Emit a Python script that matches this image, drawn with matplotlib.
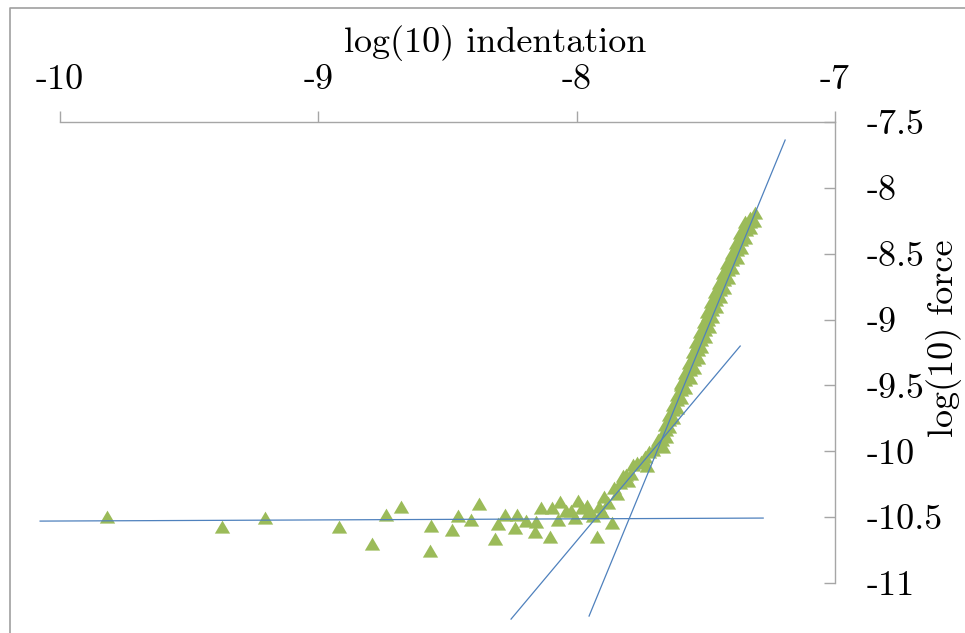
import matplotlib
matplotlib.use('Agg')
import matplotlib.pyplot as plt
from matplotlib.lines import Line2D

plt.rcParams['font.family'] = ['cmr10', 'DejaVu Serif']
plt.rcParams['axes.unicode_minus'] = False
plt.rcParams['mathtext.fontset'] = 'cm'

# ---- data ----
x_ticks = [-10, -9, -8, -7]
x_tick_labels = ['-10', '-9', '-8', '-7']
y_ticks = [-11, -10.5, -10, -9.5, -9, -8.5, -8, -7.5]
y_tick_labels = ['-11', '-10.5', '-10', '-9.5', '-9', '-8.5', '-8', '-7.5']

low_x = [-9.818, -9.373, -9.206, -8.920, -8.792, -8.738, -8.680, -8.564, -8.568, -8.483,
         -8.459, -8.409, -8.378, -8.316, -8.304, -8.277, -8.239, -8.231, -8.196, -8.161,
         -8.157, -8.138, -8.103, -8.095, -8.072, -8.064, -8.041, -8.022, -8.006, -7.995,
         -7.979, -7.960, -7.956, -7.937, -7.921, -7.914, -7.902, -7.894, -7.879, -7.863,
         -7.855, -7.844, -7.832, -7.820, -7.809, -7.801, -7.790, -7.782, -7.766, -7.751,
         -7.735, -7.728, -7.720, -7.704, -7.685]
low_y = [-10.499, -10.575, -10.507, -10.575, -10.704, -10.484, -10.423, -10.567, -10.757, -10.598,
         -10.491, -10.522, -10.400, -10.666, -10.552, -10.484, -10.583, -10.484, -10.529, -10.613,
         -10.537, -10.431, -10.651, -10.431, -10.522, -10.385, -10.453, -10.453, -10.507, -10.378,
         -10.431, -10.416, -10.469, -10.491, -10.651, -10.423, -10.461, -10.347, -10.393, -10.545,
         -10.279, -10.324, -10.241, -10.188, -10.180, -10.226, -10.173, -10.104, -10.089, -10.081,
         -10.043, -10.112, -10.005, -9.990, -9.914]

band_x = [-7.681, -7.668, -7.670, -7.656, -7.658, -7.643, -7.643, -7.627, -7.627, -7.612,
          -7.612, -7.596, -7.596, -7.579, -7.577, -7.561, -7.561, -7.546, -7.546, -7.532,
          -7.534, -7.519, -7.519, -7.503, -7.503, -7.490, -7.492, -7.476, -7.476, -7.461,
          -7.461, -7.445, -7.445, -7.430, -7.430, -7.414, -7.414, -7.397, -7.395, -7.379,
          -7.379, -7.364, -7.364, -7.346, -7.344, -7.329, -7.329, -7.310]
band_y = [-9.952, -9.914, -9.876, -9.838, -9.800, -9.763, -9.725, -9.687, -9.649, -9.611,
          -9.573, -9.535, -9.497, -9.459, -9.421, -9.383, -9.345, -9.307, -9.269, -9.231,
          -9.193, -9.155, -9.117, -9.079, -9.041, -9.003, -8.965, -8.927, -8.889, -8.851,
          -8.813, -8.776, -8.738, -8.700, -8.662, -8.624, -8.586, -8.548, -8.510, -8.472,
          -8.434, -8.396, -8.358, -8.320, -8.282, -8.256, -8.229, -8.191]

band2_x = [-7.665, -7.654, -7.642, -7.627, -7.611, -7.596, -7.580, -7.561, -7.545, -7.530,
           -7.518, -7.503, -7.487, -7.476, -7.460, -7.445, -7.429, -7.414, -7.398, -7.379,
           -7.363, -7.348, -7.328, -7.313]
band2_y = [-9.971, -9.895, -9.819, -9.744, -9.668, -9.592, -9.516, -9.440, -9.364, -9.288,
           -9.212, -9.136, -9.060, -8.984, -8.908, -8.832, -8.757, -8.681, -8.605, -8.529,
           -8.453, -8.377, -8.301, -8.248]

band3_x = [-7.597, -7.580, -7.565, -7.549, -7.537, -7.522, -7.507, -7.495, -7.480, -7.464,
           -7.448, -7.433, -7.417, -7.399, -7.383, -7.367, -7.349]
band3_y = [-9.478, -9.402, -9.326, -9.250, -9.174, -9.098, -9.022, -8.946, -8.870, -8.794,
           -8.719, -8.643, -8.567, -8.491, -8.415, -8.339, -8.263]

# fitted straight lines (start, end)
flat_x = [-10.077, -7.278]
flat_y = [-10.530, -10.507]
mid_x = [-8.254, -7.367]
mid_y = [-11.274, -9.201]
steep_x = [-7.952, -7.193]
steep_y = [-11.251, -7.637]

# ---- style ----
green = '#9BBB59'
blue = '#4F81BD'
axis_col = '#A6A6A6'
fs = 26
tri = [(-1.0, -0.8), (1.0, -0.8), (0.0, 0.9)]
msize = 11

fig = plt.figure(figsize=(9.65, 6.33), dpi=100)
ax = fig.add_axes([60 / 965, 1 - 583 / 633, 775 / 965, 461 / 633])
ax.set_xlim(-10, -7)
ax.set_ylim(-11, -7.5)

for s in ['left', 'bottom']:
    ax.spines[s].set_visible(False)
for s in ['top', 'right']:
    ax.spines[s].set_color(axis_col)
    ax.spines[s].set_linewidth(1.0)

ax.xaxis.tick_top()
ax.yaxis.tick_right()
ax.set_xticks(x_ticks)
ax.set_xticklabels(x_tick_labels)
ax.set_yticks(y_ticks)
ax.set_yticklabels(y_tick_labels)
ax.tick_params(axis='x', direction='out', length=8, width=1.0, color=axis_col,
               pad=11, labelsize=fs, labelcolor='black')
ax.tick_params(axis='y', direction='in', length=8, width=1.0, color=axis_col,
               pad=23, labelsize=fs, labelcolor='black')

ax.plot(flat_x, flat_y, color=blue, lw=0.9, clip_on=False, zorder=3)
ax.plot(mid_x, mid_y, color=blue, lw=0.9, clip_on=False, zorder=3)
ax.plot(steep_x, steep_y, color=blue, lw=0.9, clip_on=False, zorder=3)

for xs, ys in [(low_x, low_y), (band_x, band_y), (band2_x, band2_y), (band3_x, band3_y)]:
    ax.plot(xs, ys, linestyle='none', marker=tri, markersize=msize, color=green,
            markeredgewidth=0, clip_on=False, zorder=2)

fig.text(495 / 965, 1 - 52 / 633, 'log(10) indentation', ha='center', va='baseline', fontsize=fs)
fig.text(944 / 965, 1 - 338 / 633, 'log(10) force', rotation=90, ha='center', va='center', fontsize=fs)

fig.add_artist(Line2D([9.5 / 965, 9.5 / 965, 1.0], [0.0, 1 - 8 / 633, 1 - 8 / 633],
                      transform=fig.transFigure, color='#A0A0A0', lw=1.2))

fig.savefig('out.png', dpi=100)
